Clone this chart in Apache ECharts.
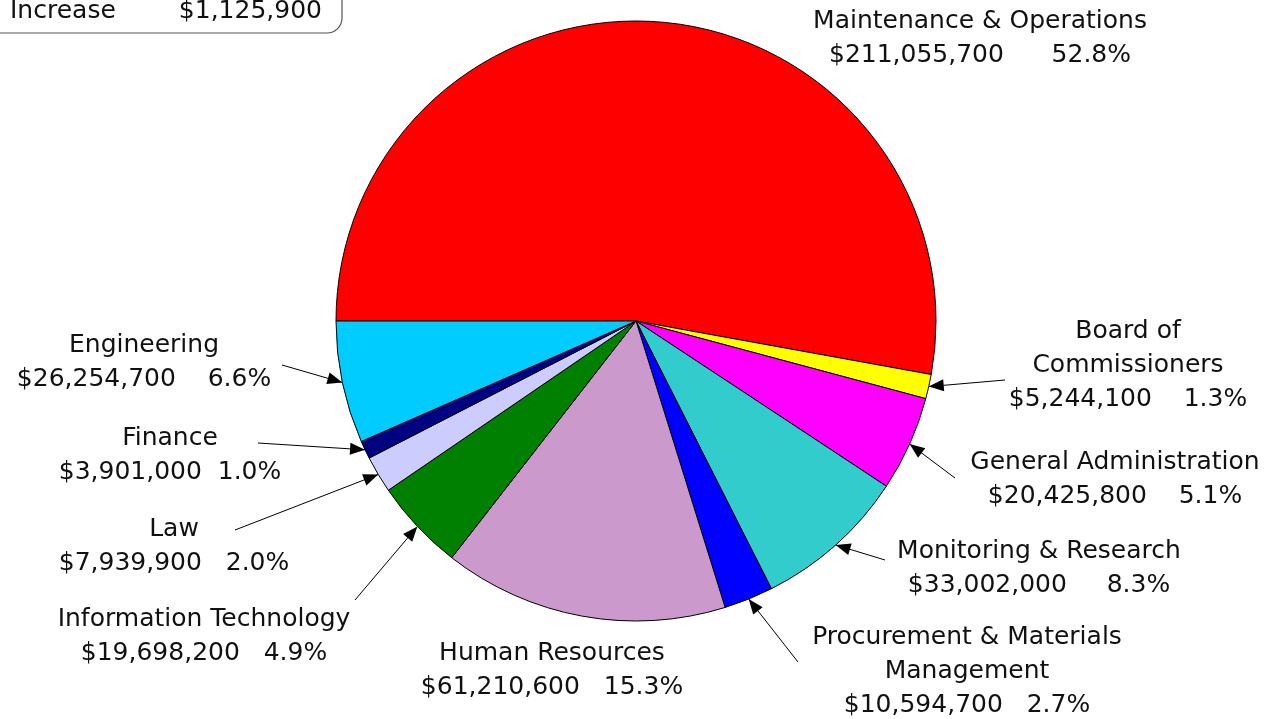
<!DOCTYPE html>
<html><head><meta charset="utf-8">
<script src="https://cdn.jsdelivr.net/npm/echarts@6/dist/echarts.min.js"></script>
<style>html,body{margin:0;padding:0;background:#fff}#c{width:1274px;height:719px}</style>
</head><body><div id="c"></div>
<script>
// ---- data ----
const categories = [
  'Maintenance & Operations', 'Board of\nCommissioners', 'General Administration',
  'Monitoring & Research', 'Procurement & Materials\nManagement', 'Human Resources',
  'Information Technology', 'Law', 'Finance', 'Engineering'
];
const amounts = [211055700, 5244100, 20425800, 33002000, 10594700, 61210600, 19698200, 7939900, 3901000, 26254700];
const percents = ['52.8%', '1.3%', '5.1%', '8.3%', '2.7%', '15.3%', '4.9%', '2.0%', '1.0%', '6.6%'];
const colors = ['#FF0000', '#FFFF00', '#FF00FF', '#33CCCC', '#0000FF', '#CC99CC', '#008000', '#CCCCFF', '#000080', '#00CCFF'];
const increaseLabel = 'Increase';
const increaseAmount = '$1,125,900';

// ---- layout ----
const CX = 636, CY = 321, R = 300;
const FONT = 'DejaVu Sans';
// label center x, top y, spaces between amount and percent, arrow tail (null = no arrow)
const LAYOUT = [
  {x: 980, y: 4, gap: 6, tail: null},
  {x: 1128, y: 314, gap: 4, tail: [1005, 380]},
  {x: 1115, y: 445, gap: 4, tail: [955, 478]},
  {x: 1039, y: 534, gap: 5, tail: [885, 560]},
  {x: 967, y: 620, gap: 3, tail: [798, 662]},
  {x: 552, y: 636, gap: 3, tail: null},
  {x: 204, y: 602, gap: 3, tail: [355, 600]},
  {x: 174, y: 512, gap: 3, tail: [235, 530]},
  {x: 170, y: 421, gap: 2, tail: [258, 443]},
  {x: 144, y: 328, gap: 4, tail: [282, 365]}
];

const total = amounts.reduce((a, b) => a + b, 0);
const tips = [];
let cum = 0;
amounts.forEach((v) => {
  const mid = cum + v / 2;
  cum += v;
  const a = (180 - mid / total * 360) * Math.PI / 180;
  tips.push([CX + R * Math.cos(a), CY - R * Math.sin(a)]);
});

function fmt(v) { return '$' + v.toLocaleString('en-US'); }

const arrowHeads = [];
LAYOUT.forEach((L, i) => {
  if (!L.tail) return;
  const t = tips[i];
  const dx = t[0] - L.tail[0], dy = t[1] - L.tail[1];
  const len = Math.hypot(dx, dy);
  const ux = dx / len, uy = dy / len;
  const bx = t[0] - ux * 15, by = t[1] - uy * 15;
  const px = -uy * 6, py = ux * 6;
  arrowHeads.push({
    type: 'polygon', silent: true, z: 10,
    shape: {points: [[t[0], t[1]], [bx + px, by + py], [bx - px, by - py]]},
    style: {fill: '#000'}
  });
});

const chart = echarts.init(document.getElementById('c'), null, {renderer: 'canvas'});
const option = {
  backgroundColor: '#fff',
  animation: false,
  series: [{
    type: 'pie',
    center: [CX, CY],
    radius: R,
    startAngle: 180,
    clockwise: true,
    avoidLabelOverlap: false,
    itemStyle: {borderColor: '#000', borderWidth: 1},
    label: {
      show: true,
      position: 'outside',
      fontFamily: FONT,
      fontSize: 25,
      lineHeight: 34,
      color: '#111',
      align: 'center',
      formatter: (p) => p.name + '\n' + fmt(p.value) + ' '.repeat(LAYOUT[p.dataIndex].gap) + percents[p.dataIndex]
    },
    labelLine: {show: true, lineStyle: {color: '#000', width: 1}},
    labelLayout: (params) => {
      const L = LAYOUT[params.dataIndex];
      const out = {x: L.x, y: L.y, align: 'center', verticalAlign: 'top'};
      if (L.tail) out.labelLinePoints = [tips[params.dataIndex], L.tail, L.tail];
      return out;
    },
    data: categories.map((c, i) => ({
      name: c, value: amounts[i],
      itemStyle: {color: colors[i]},
      labelLine: {show: !!LAYOUT[i].tail}
    }))
  }],
  graphic: [
    {type: 'rect', shape: {x: -20, y: -60, width: 362, height: 93, r: 15},
     style: {fill: 'none', stroke: '#555', lineWidth: 1.2}},
    {type: 'text', x: 10, y: 11, style: {text: increaseLabel, font: '25px "DejaVu Sans"', fill: '#111', verticalAlign: 'middle'}},
    {type: 'text', x: 322, y: 11, style: {text: increaseAmount, font: '25px "DejaVu Sans"', fill: '#111', align: 'right', verticalAlign: 'middle'}}
  ].concat(arrowHeads)
};
chart.setOption(option);
</script>
</body></html>
